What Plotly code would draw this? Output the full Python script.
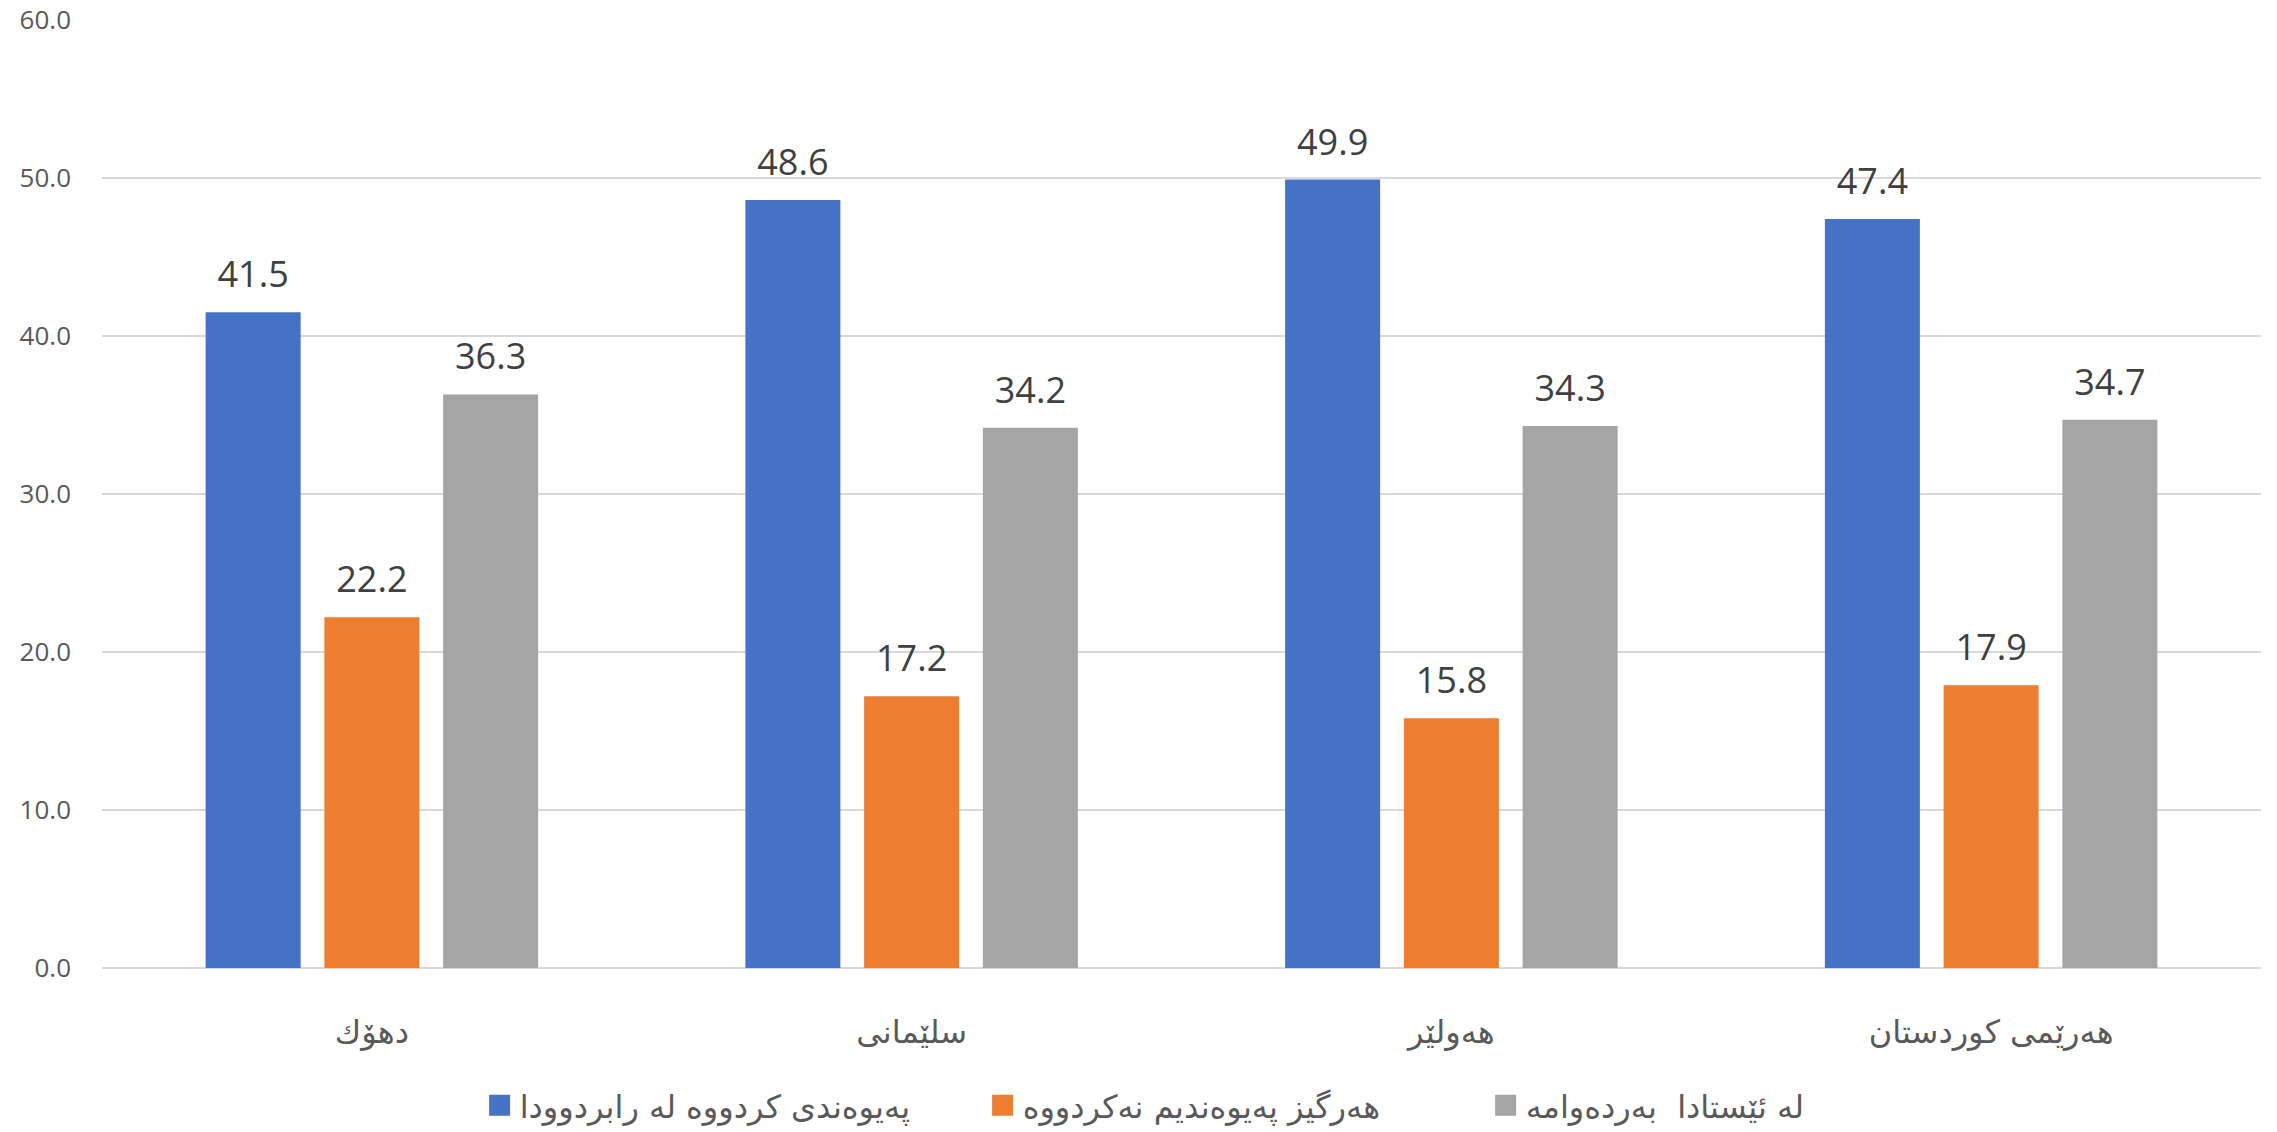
import plotly.graph_objects as go

# Regions (categories, left to right)
regions = ["دهۆك", "سلێمانی", "هەولێر", "هەرێمی کوردستان"]

# Series names
series_names = [
    "پەیوەندی کردووە لە رابردوودا",
    "هەرگیز پەیوەندیم نەکردووە",
    "لە ئێستادا  بەردەوامە",
]

# Percentages per region
contacted_before = [41.5, 48.6, 49.9, 47.4]
never_contacted = [22.2, 17.2, 15.8, 17.9]
still_ongoing = [36.3, 34.2, 34.3, 34.7]

y_ticks = [0, 10, 20, 30, 40, 50, 60]

series_values = [contacted_before, never_contacted, still_ongoing]
colors = ["#4472C4", "#ED7D31", "#A5A5A5"]
groups = ["g1", "g2", "g3"]

ARABIC_FONT = "DejaVu Sans, Noto Sans, sans-serif"

fig = go.Figure()

for name, vals, col, grp in zip(series_names, series_values, colors, groups):
    # the bars themselves
    fig.add_trace(go.Bar(
        x=regions, y=vals, name=name,
        marker=dict(color=col, line=dict(width=0)),
        offsetgroup=grp, showlegend=False, hoverinfo="x+y",
    ))
    # value labels above each bar (invisible marker sets the gap)
    fig.add_trace(go.Scatter(
        x=regions, y=vals, mode="markers+text",
        text=[f"{v:.1f}" for v in vals], textposition="top center",
        textfont=dict(family="Open Sans, Noto Sans, sans-serif", size=36, color="#404040"),
        marker=dict(size=24, color="rgba(0,0,0,0)"),
        offsetgroup=grp, showlegend=False, hoverinfo="skip",
    ))
    # legend entry with a larger square swatch
    fig.add_trace(go.Scatter(
        x=[None], y=[None], mode="markers", name=name,
        marker=dict(symbol="square", size=16, color=col, line=dict(color=col, width=5)),
        offsetgroup=grp, showlegend=True, hoverinfo="skip",
    ))

fig.update_layout(
    width=2277, height=1132,
    margin=dict(l=102, r=16, t=20, b=164, autoexpand=False),
    paper_bgcolor="white", plot_bgcolor="white",
    barmode="group", bargap=0.34, bargroupgap=0.2,
    scattermode="group",
    legend=dict(
        orientation="h", xref="container", yref="paper",
        x=0.542, xanchor="center", y=-0.174, yanchor="bottom",
        font=dict(family=ARABIC_FONT, size=32, color="#595959"),
        itemsizing="trace", entrywidth=458,
    ),
)

fig.update_xaxes(
    type="category", categoryorder="array", categoryarray=regions,
    showgrid=False, showline=False, zeroline=False, ticks="",
    tickfont=dict(family=ARABIC_FONT, size=32, color="#595959"),
    ticklabelstandoff=42,
)

fig.update_yaxes(
    range=[0, 60], tickvals=y_ticks, tickformat=".1f",
    showgrid=True, gridcolor="#D9D9D9", gridwidth=1.5,
    zeroline=True, zerolinecolor="#D9D9D9", zerolinewidth=1.5,
    showline=False, ticks="",
    tickfont=dict(family="Open Sans, Noto Sans, sans-serif", size=26, color="#595959"),
    ticklabelstandoff=30,
)

fig.write_html("out.html")
